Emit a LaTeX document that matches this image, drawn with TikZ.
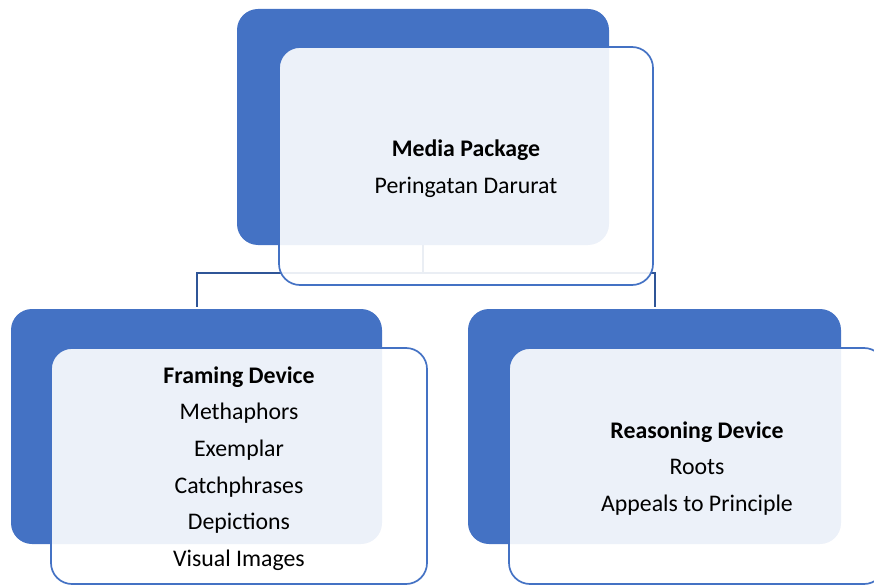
\documentclass[tikz,border=0pt]{standalone}
\usepackage{fontspec}
\setmainfont{Carlito}
\definecolor{accblue}{HTML}{4472C4}
\definecolor{linkblue}{HTML}{2F5597}
\tikzset{
  backbox/.style={fill=accblue, draw=none, rounded corners=21pt},
  frontbox/.style={fill=white, fill opacity=0.9, draw=accblue, line width=1.7pt, rounded corners=21pt, text opacity=1},
  label/.style={font=\fontsize{23.8}{36.7}\selectfont, align=center, text=black},
  link/.style={draw=linkblue, line width=2pt}
}
\begin{document}
\begin{tikzpicture}[x=1pt,y=-1pt]
\useasboundingbox (0,0) rectangle (874,585);
\clip (0,0) rectangle (874,585);
% top
\path[backbox] (237,9) rectangle (609,245);
\coordinate (topS) at (423,245);
\coordinate (leftN) at (196.5,307);
\coordinate (rightN) at (654.5,307);
\coordinate (hub) at (423,273);
\draw[link] (topS) -- (hub) -| (leftN);
\draw[link] (hub) -| (rightN);
\path[frontbox] (279,47) rectangle (653,285);
\node[label] (top) at (466,168.5) {\textbf{Media Package}\\Peringatan Darurat};
% left
\path[backbox] (11,309) rectangle (382,544);
\path[frontbox] (51,348) rectangle (427,584);
\node[label] (left) at (239,468.5) {\textbf{Framing Device}\\Methaphors\\Exemplar\\Catchphrases\\Depictions\\Visual Images};
% right
\path[backbox] (468,309) rectangle (841,544);
\path[frontbox] (509,348) rectangle (885,584);
\node[label] (right) at (697,468.5) {\textbf{Reasoning Device}\\Roots\\Appeals to Principle};
\end{tikzpicture}
\end{document}
